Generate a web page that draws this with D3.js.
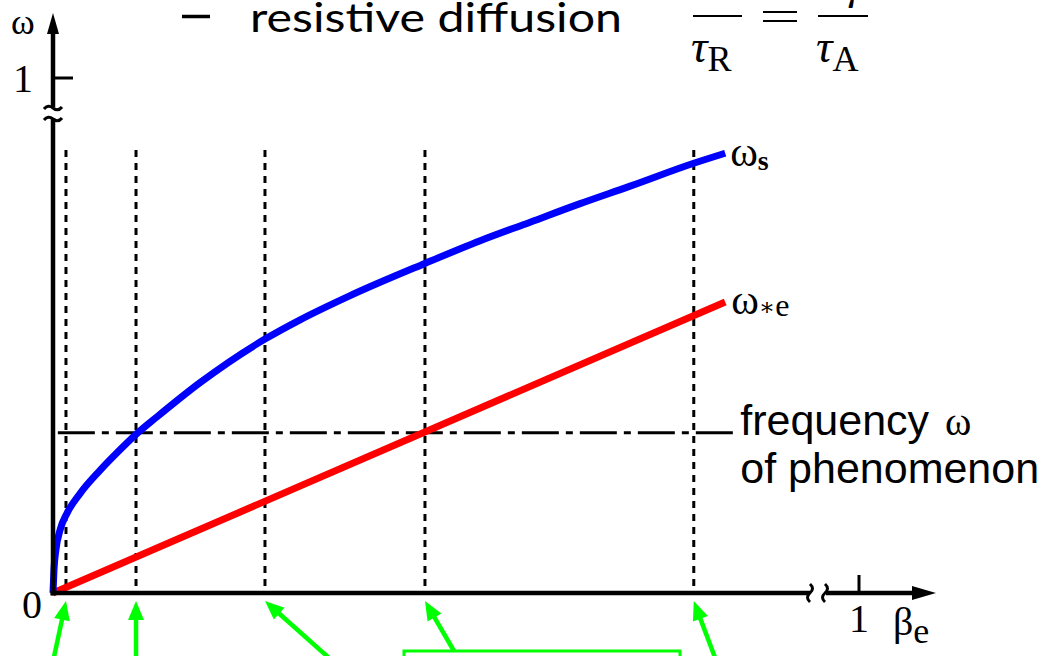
<!DOCTYPE html>
<html><head><meta charset="utf-8">
<script src="https://cdn.jsdelivr.net/npm/d3@7"></script>
<style>html,body{margin:0;padding:0;background:#fff;overflow:hidden}</style>
</head><body>
<svg id="chart" width="1046" height="656"></svg>
<script>
// ---- data (normalised units: beta_e on x, omega on y) ----
const omegaSBeta   = [0,0.0012,0.0037,0.0087,0.0174,0.0335,0.0583,0.0831,0.103,0.129,0.182,0.263,0.306,0.368,0.4615,0.530,0.592,0.654,0.716,0.794,0.834];
const omegaSValues = [0,0.045,0.085,0.122,0.155,0.193,0.238,0.278,0.308,0.342,0.408,0.493,0.530,0.577,0.640,0.684,0.720,0.756,0.790,0.834,0.854];
const omegaStarEBeta   = [0, 0.834];
const omegaStarEValues = [0, 0.565];
const markerBetas = [0.0161, 0.103, 0.263, 0.4615, 0.795];
const markerTop = 0.860;
const phenomenonOmega = 0.311;
const phenomenonSpan = [0.006, 0.844];
const xTickValues = [1], xTickLabels = ["1"];
const yTickValues = [1], yTickLabels = ["1"];
const originLabel = "0";
const titleText = "resistive diffusion";
const phenomenonLines = ["frequency", "of phenomenon"];

const svg = d3.select("#chart");
const x = d3.scaleLinear().domain([0, 1]).range([53, 859]);
const y = d3.scaleLinear().domain([0, 1]).range([593, 78]);
const serif = "'Liberation Serif','DejaVu Serif',serif";
const sans = "'Liberation Sans',Arial,sans-serif";
const GREEN = "#00ff00";

// ---- title fragment (slide text) ----
svg.append("line").attr("x1", 182).attr("x2", 210).attr("y1", 16.5).attr("y2", 16.5)
  .attr("stroke", "#000").attr("stroke-width", 3.5);
svg.append("text").attr("x", 250).attr("y", 32).attr("font-family", "Lato,sans-serif")
  .attr("font-size", 40).attr("textLength", 372).attr("lengthAdjust", "spacingAndGlyphs").text(titleText);
// formula  ( . / tau_R = gamma / tau_A )
const fg = svg.append("g").attr("stroke", "#000").attr("stroke-width", 2);
fg.append("line").attr("x1", 693).attr("x2", 742).attr("y1", 16).attr("y2", 16);
fg.append("line").attr("x1", 763).attr("x2", 797).attr("y1", 12).attr("y2", 12);
fg.append("line").attr("x1", 763).attr("x2", 797).attr("y1", 21).attr("y2", 21);
fg.append("line").attr("x1", 818).attr("x2", 868).attr("y1", 16).attr("y2", 16);
function tauLabel(x0, sub) {
  const t = svg.append("text").attr("x", x0).attr("y", 62).attr("font-family", serif).attr("font-size", 46);
  t.append("tspan").attr("font-style", "italic").text("\u03c4");
  t.append("tspan").attr("font-size", 36).attr("dy", 9).text(sub);
}
tauLabel(691, "R");
tauLabel(816, "A");
svg.append("text").attr("x", 846).attr("y", -1).attr("font-family", serif).attr("font-style", "italic")
  .attr("font-size", 40).text("\u03b3");

// ---- marker verticals ----
svg.append("g").selectAll("line").data(markerBetas).join("line")
  .attr("x1", d => x(d)).attr("x2", d => x(d))
  .attr("y1", y(markerTop)).attr("y2", y(0))
  .attr("stroke", "#000").attr("stroke-width", 3).attr("stroke-dasharray", "7,6");

// ---- phenomenon frequency (dash-dot) ----
svg.append("line")
  .attr("x1", x(phenomenonSpan[0])).attr("x2", x(phenomenonSpan[1]))
  .attr("y1", y(phenomenonOmega)).attr("y2", y(phenomenonOmega))
  .attr("stroke", "#000").attr("stroke-width", 3).attr("stroke-dasharray", "37,7,7,7");

// ---- series ----
const line = d3.line().x(d => x(d[0])).y(d => y(d[1]));
svg.append("path").datum(d3.zip(omegaStarEBeta, omegaStarEValues))
  .attr("d", line).attr("fill", "none").attr("stroke", "#ff0000").attr("stroke-width", 7);
svg.append("path").datum(d3.zip(omegaSBeta, omegaSValues))
  .attr("d", line.curve(d3.curveMonotoneX)).attr("fill", "none").attr("stroke", "#0000ff").attr("stroke-width", 7);

// ---- axes ----
const ax = svg.append("g").attr("stroke", "#000").attr("fill", "none");
const x0 = x(0), y0 = y(0);
// y axis (with break)
ax.append("line").attr("x1", x0).attr("x2", x0).attr("y1", y0 + 2.5).attr("y2", 118).attr("stroke-width", 4.5);
ax.append("line").attr("x1", x0).attr("x2", x0).attr("y1", 107).attr("y2", 30).attr("stroke-width", 4.5);
ax.append("path").attr("d", `M${x0-9},109 q4,-5 9,-1 t9,-1`).attr("stroke-width", 3);
ax.append("path").attr("d", `M${x0-9},120 q4,-5 9,-1 t9,-1`).attr("stroke-width", 3);
svg.append("path").attr("d", `M${x0},13 L${x0+6},34 L${x0-6},34 Z`).attr("fill", "#000");
// x axis (with break)
ax.append("line").attr("x1", x0 - 2.5).attr("x2", 810).attr("y1", y0).attr("y2", y0).attr("stroke-width", 4.5);
ax.append("line").attr("x1", 826).attr("x2", 916).attr("y1", y0).attr("y2", y0).attr("stroke-width", 4.5);
ax.append("path").attr("d", `M810,${y0-9} q5,4.5 0,9 t0,9`).attr("stroke-width", 3);
ax.append("path").attr("d", `M825,${y0-9} q5,4.5 0,9 t0,9`).attr("stroke-width", 3);
svg.append("path").attr("d", `M936,${y0} L912,${y0-7} L912,${y0+7} Z`).attr("fill", "#000");
// ticks
ax.selectAll(".xt").data(xTickValues).join("line").attr("class", "xt")
  .attr("x1", d => x(d)).attr("x2", d => x(d)).attr("y1", y0).attr("y2", y0 - 18).attr("stroke-width", 3);
ax.selectAll(".yt").data(yTickValues).join("line").attr("class", "yt")
  .attr("x1", x0).attr("x2", x0 + 20).attr("y1", d => y(d)).attr("y2", d => y(d)).attr("stroke-width", 3);
svg.selectAll(".xtl").data(xTickValues).join("text").attr("class", "xtl")
  .attr("x", d => x(d)).attr("y", y0 + 39).attr("text-anchor", "middle")
  .attr("font-family", serif).attr("font-size", 40).text((d, i) => xTickLabels[i]);
svg.selectAll(".ytl").data(yTickValues).join("text").attr("class", "ytl")
  .attr("x", x0 - 20).attr("y", d => y(d) + 14).attr("text-anchor", "end")
  .attr("font-family", serif).attr("font-size", 40).text((d, i) => yTickLabels[i]);
svg.append("text").attr("x", x0 - 11).attr("y", y0 + 25).attr("text-anchor", "end")
  .attr("font-family", serif).attr("font-size", 40).text(originLabel);
// axis titles
svg.append("text").attr("x", 11).attr("y", 34).attr("font-family", serif).attr("font-size", 36).text("\u03c9");
const bt = svg.append("text").attr("x", 893).attr("y", y0 + 42).attr("font-family", serif).attr("font-size", 40);
bt.append("tspan").text("\u03b2");
bt.append("tspan").attr("font-size", 36).attr("dy", 8).text("e");

// ---- series labels ----
const sEnd = [omegaSBeta[omegaSBeta.length - 1], omegaSValues[omegaSValues.length - 1]];
const eEnd = [omegaStarEBeta[1], omegaStarEValues[1]];
const ls = svg.append("text").attr("x", x(sEnd[0]) + 5).attr("y", y(sEnd[1]) + 13).attr("font-family", serif).attr("font-size", 42);
ls.append("tspan").text("\u03c9");
ls.append("tspan").attr("font-size", 28).attr("font-weight", "bold").attr("dy", 4).text("s");
const le = svg.append("text").attr("x", x(eEnd[0]) + 6).attr("y", y(eEnd[1]) + 12).attr("font-family", serif).attr("font-size", 42);
le.append("tspan").text("\u03c9");
le.append("tspan").attr("font-size", 24).attr("dy", 1).text("\u2217");
le.append("tspan").attr("font-size", 32).attr("dy", 1).text("e");

// phenomenon label
const pl = svg.append("text").attr("x", x(phenomenonSpan[1]) + 7).attr("y", y(phenomenonOmega) + 2)
  .attr("font-family", sans).attr("font-size", 43);
pl.append("tspan").text(phenomenonLines[0]);
pl.append("tspan").attr("font-family", serif).attr("font-size", 40).attr("dx", 16).text("\u03c9");
svg.append("text").attr("x", x(phenomenonSpan[1]) + 7).attr("y", y(phenomenonOmega) + 50)
  .attr("font-family", sans).attr("font-size", 43).text(phenomenonLines[1]);

// ---- green annotation arrows pointing at the marker lines ----
const arrowTailDx = [-12, 0, 63, 29, 21];
const ga = svg.append("g");
markerBetas.forEach((b, i) => {
  const tx = x(b), ty = y0 + 8;
  const dx = arrowTailDx[i], dy = i === 3 ? 50 : 56;
  const len = Math.hypot(dx, dy), ux = dx / len, uy = dy / len;
  const ext = 20 / uy;
  ga.append("line").attr("x1", tx + ux * 14).attr("y1", ty + uy * 14)
    .attr("x2", tx + dx + (i === 3 ? 0 : ux * ext)).attr("y2", ty + dy + (i === 3 ? 0 : uy * ext))
    .attr("stroke", GREEN).attr("stroke-width", 4.5);
  const hl = 19, hw = 8;
  const bx = tx + ux * hl, by = ty + uy * hl;
  ga.append("path").attr("d", `M${tx},${ty} L${bx - uy * hw},${by + ux * hw} L${bx + uy * hw},${by - ux * hw} Z`)
    .attr("fill", GREEN);
});
ga.append("rect").attr("x", 404).attr("y", y0 + 58).attr("width", 276).attr("height", 30)
  .attr("fill", "none").attr("stroke", GREEN).attr("stroke-width", 3);
</script>
</body></html>
